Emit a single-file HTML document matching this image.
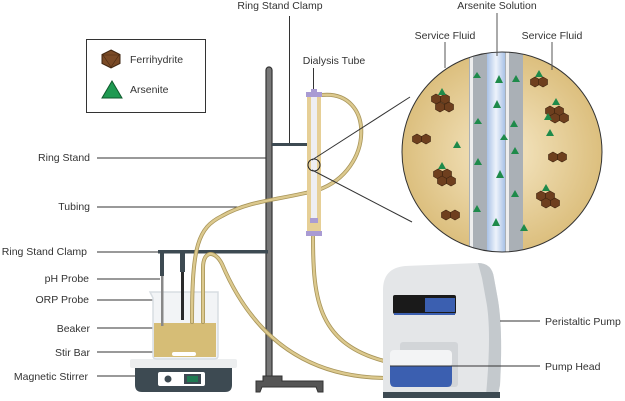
<!DOCTYPE html>
<html><head><meta charset="utf-8"><style>
html,body{margin:0;padding:0;background:#fff;}
svg{display:block;font-family:"Liberation Sans",sans-serif;}
text{font-size:10.5px;fill:#333;}
</style></head><body>
<svg width="625" height="401" viewBox="0 0 625 401" xmlns="http://www.w3.org/2000/svg">
<defs>
<radialGradient id="fl" cx="50%" cy="50%" r="50%"><stop offset="0" stop-color="#f6e8c6"/><stop offset="1" stop-color="#dcbf7e"/></radialGradient>
<linearGradient id="bl" x1="0" x2="1"><stop offset="0" stop-color="#a9c2e6"/><stop offset="0.5" stop-color="#eef3fb"/><stop offset="1" stop-color="#a9c2e6"/></linearGradient>
<clipPath id="cc"><circle cx="502" cy="152" r="100"/></clipPath>
<g id="fe"><polygon points="0,-5 4.5,-2.5 4.5,2.5 0,5 -4.5,2.5 -4.5,-2.5" fill="#6e3f1e" stroke="#3e2410" stroke-width="0.6"/></g>
<g id="tr"><polygon points="0,-4 4,3 -4,3" fill="#1e8a4a"/></g>
</defs>

<!-- legend -->
<rect x="86.5" y="39.5" width="119" height="73" fill="#fff" stroke="#333" stroke-width="1"/>
<polygon points="111,50 120,54.5 120,63.5 111,68 102,63.5 102,54.5" fill="#7a4a26" stroke="#3e2410"/>
<polygon points="103,55 119,55 111,67" fill="none" stroke="#4a2a12" stroke-width="0.6"/>
<text x="130" y="63">Ferrihydrite</text>
<polygon points="112,81 122,98 102,98" fill="#1f9a52" stroke="#0e5a2c"/>
<text x="130" y="93">Arsenite</text>

<!-- labels -->
<text x="280" y="9" text-anchor="middle">Ring Stand Clamp</text>
<line x1="289.5" y1="16" x2="289.5" y2="144" stroke="#333"/>
<text x="334" y="64" text-anchor="middle">Dialysis Tube</text>
<line x1="313.5" y1="68" x2="313.5" y2="91" stroke="#333"/>

<text x="90" y="161" text-anchor="end">Ring Stand</text>
<line x1="97" y1="158" x2="267" y2="158" stroke="#333"/>
<text x="90" y="210" text-anchor="end">Tubing</text>
<line x1="97" y1="207" x2="242" y2="207" stroke="#333"/>
<text x="87" y="255" text-anchor="end">Ring Stand Clamp</text>
<line x1="97" y1="252" x2="158" y2="252" stroke="#333"/>
<text x="89" y="282" text-anchor="end">pH Probe</text>
<line x1="97" y1="279" x2="160" y2="279" stroke="#333"/>
<text x="89" y="303" text-anchor="end">ORP Probe</text>
<line x1="97" y1="300" x2="181" y2="300" stroke="#333"/>
<text x="90" y="332" text-anchor="end">Beaker</text>
<line x1="97" y1="328" x2="155" y2="328" stroke="#333"/>
<text x="90" y="356" text-anchor="end">Stir Bar</text>
<line x1="97" y1="352" x2="172" y2="352" stroke="#333"/>
<text x="88" y="380" text-anchor="end">Magnetic Stirrer</text>
<line x1="97" y1="376" x2="135" y2="376" stroke="#333"/>

<!-- ring stand -->
<rect x="266" y="67" width="6" height="315" rx="3" fill="#777" stroke="#333" stroke-width="1.2"/>
<path d="M256 392 L256 381 L263 381 L263 376 L282 376 L282 381 L323 381 L323 392 L318 392 L316 387 L262 387 L260 392 Z" fill="#555" stroke="#333"/>
<rect x="272" y="143" width="35" height="3" fill="#3d4a52"/>
<rect x="158" y="250" width="110" height="3.5" fill="#3d4a52"/>

<!-- beaker & stirrer -->
<rect x="130" y="359" width="107" height="9" rx="2" fill="#eceeef"/>
<path d="M135 368 H232 V385 Q232 392 225 392 H142 Q135 392 135 385 Z" fill="#3d4a52"/>
<rect x="158" y="372" width="47" height="14" rx="2" fill="#fff"/>
<circle cx="168" cy="379" r="3.5" fill="#3d4a52"/>
<rect x="184" y="374" width="17" height="10" fill="#3d4a52"/><rect x="187" y="376" width="11" height="6" fill="#1f7a52"/>
<path d="M150 292 H218 V356 Q218 359 214 359 H157 Q153 359 153 356 V298 Z" fill="#f2f4f6" stroke="#d8dde2" stroke-width="1.5"/>
<rect x="154" y="323" width="62" height="34" fill="#d6bd76"/>
<rect x="172" y="352" width="24" height="4" rx="2" fill="#fff"/>
<!-- probes -->
<rect x="160" y="252" width="4" height="24" fill="#3d4a52"/>
<rect x="161" y="276" width="2.5" height="50" fill="#888"/>
<rect x="180" y="252" width="5" height="20" fill="#3d4a52"/>
<rect x="181" y="272" width="3" height="48" fill="#2a2a2a"/>

<!-- tubing -->
<g fill="none" stroke="#a8955a" stroke-width="4" stroke-linecap="round">
<path d="M322 95 C375 90 375 170 318 190 C280 200 250 200 222 216 C198 228 192 245 192 322"/>
<path d="M203 322 V268 C203 250 215 250 222 264 C250 330 300 378 388 378"/>
<path d="M313 237 C313 300 318 345 388 362"/>
</g>
<g fill="none" stroke="#dcc98e" stroke-width="2.4" stroke-linecap="round">
<path d="M322 95 C375 90 375 170 318 190 C280 200 250 200 222 216 C198 228 192 245 192 322"/>
<path d="M203 322 V268 C203 250 215 250 222 264 C250 330 300 378 388 378"/>
<path d="M313 237 C313 300 318 345 388 362"/>
</g>

<!-- dialysis tube -->
<rect x="307" y="96" width="14" height="135" fill="#e6cf96"/>
<rect x="311" y="97" width="6" height="125" fill="#eeeef2"/>
<rect x="306" y="92" width="16" height="5" fill="#a99bd3"/>
<rect x="311" y="89" width="6" height="4" fill="#a99bd3"/>
<rect x="310" y="218" width="8" height="5" fill="#a99bd3"/>
<rect x="306" y="231" width="16" height="5" fill="#a99bd3"/>
<circle cx="314" cy="165" r="6" fill="none" stroke="#222" stroke-width="1"/>
<line x1="312" y1="160" x2="410" y2="97" stroke="#333"/>
<line x1="312" y1="170" x2="412" y2="222" stroke="#333"/>

<!-- zoom circle -->
<text x="445" y="39" text-anchor="middle">Service Fluid</text>
<text x="552" y="39" text-anchor="middle">Service Fluid</text>
<text x="497" y="9" text-anchor="middle">Arsenite Solution</text>
<circle cx="502" cy="152" r="100" fill="url(#fl)"/>
<g clip-path="url(#cc)">
<rect x="469" y="50" width="18" height="210" fill="#aab0b6"/>
<rect x="505" y="50" width="18" height="210" fill="#aab0b6"/>
<rect x="470" y="50" width="3" height="210" fill="#eee"/>
<rect x="506" y="50" width="3" height="210" fill="#eee"/>
<rect x="487" y="50" width="18" height="210" fill="url(#bl)"/>
<g fill="#1e8a4a"><polygon points="499,75 503,83 495,83"/><polygon points="497,100 501,108 493,108"/><polygon points="500,170 504,178 496,178"/><polygon points="496,218 500,226 492,226"/><polygon points="477,72 481,78 473,78"/><polygon points="516,75 520,82 512,82"/><polygon points="478,118 482,124 474,124"/><polygon points="514,120 518,127 510,127"/><polygon points="478,158 482,165 474,165"/><polygon points="515,147 519,154 511,154"/><polygon points="515,190 519,197 511,197"/><polygon points="477,205 481,212 473,212"/><polygon points="524,224 528,231 520,231"/><polygon points="504,134 508,140 500,140"/></g>
</g>
<circle cx="502" cy="152" r="100" fill="none" stroke="#333" stroke-width="1"/>
<line x1="445" y1="42" x2="445" y2="68" stroke="#555"/>
<line x1="552" y1="42" x2="552" y2="70" stroke="#555"/>
<line x1="497" y1="13" x2="497" y2="56" stroke="#555"/>
<!-- ferrihydrite clusters -->
<g>
<use href="#fe" x="436" y="99"/><use href="#fe" x="445" y="99"/><use href="#fe" x="440" y="107"/><use href="#fe" x="449" y="107"/><use href="#tr" x="442" y="92"/>
<use href="#fe" x="417" y="139"/><use href="#fe" x="426" y="139"/>
<use href="#fe" x="438" y="174"/><use href="#fe" x="447" y="174"/><use href="#fe" x="442" y="181"/><use href="#fe" x="451" y="181"/><use href="#tr" x="442" y="166"/>
<use href="#fe" x="446" y="215"/><use href="#fe" x="455" y="215"/>
<use href="#fe" x="535" y="82"/><use href="#fe" x="543" y="82"/><use href="#tr" x="539" y="74"/>
<use href="#fe" x="550" y="111"/><use href="#fe" x="559" y="111"/><use href="#fe" x="555" y="118"/><use href="#fe" x="564" y="118"/><use href="#tr" x="556" y="102"/><use href="#tr" x="548" y="117"/>
<use href="#fe" x="553" y="157"/><use href="#fe" x="562" y="157"/>
<use href="#fe" x="541" y="196"/><use href="#fe" x="550" y="196"/><use href="#fe" x="546" y="203"/><use href="#fe" x="555" y="203"/><use href="#tr" x="546" y="188"/>
<use href="#tr" x="457" y="145"/><use href="#tr" x="550" y="133"/>
</g>

<!-- pump -->
<path d="M383 395 V290 Q383 268 405 266 L478 263 Q492 263 494 278 L498 300 Q503 330 500 385 L498 395 Z" fill="#e4e6e8"/>
<path d="M478 263 Q492 263 494 278 L498 300 Q503 330 500 385 L498 395 H486 Q492 330 486 300 L482 278 Z" fill="#c4c9cd"/>
<path d="M383 392 H500 V398 H383 Z" fill="#3d4a52"/>
<rect x="393" y="295" width="63" height="19" rx="2" fill="#1a1a1a"/>
<rect x="425" y="298" width="30" height="14" fill="#3b5fb0"/>
<rect x="394" y="313" width="61" height="2" fill="#3b5fb0"/>
<rect x="400" y="342" width="58" height="45" rx="3" fill="#d2d5d8"/>
<rect x="390" y="350" width="62" height="17" rx="4" fill="#f3f4f5"/>
<path d="M390 366 H452 V382 Q452 387 447 387 H395 Q390 387 390 382 Z" fill="#3b5fb0"/>
<line x1="500" y1="321" x2="540" y2="321" stroke="#333"/>
<text x="545" y="325">Peristaltic Pump</text>
<line x1="390" y1="366" x2="540" y2="366" stroke="#333"/>
<text x="545" y="370">Pump Head</text>
</svg>
</body></html>
